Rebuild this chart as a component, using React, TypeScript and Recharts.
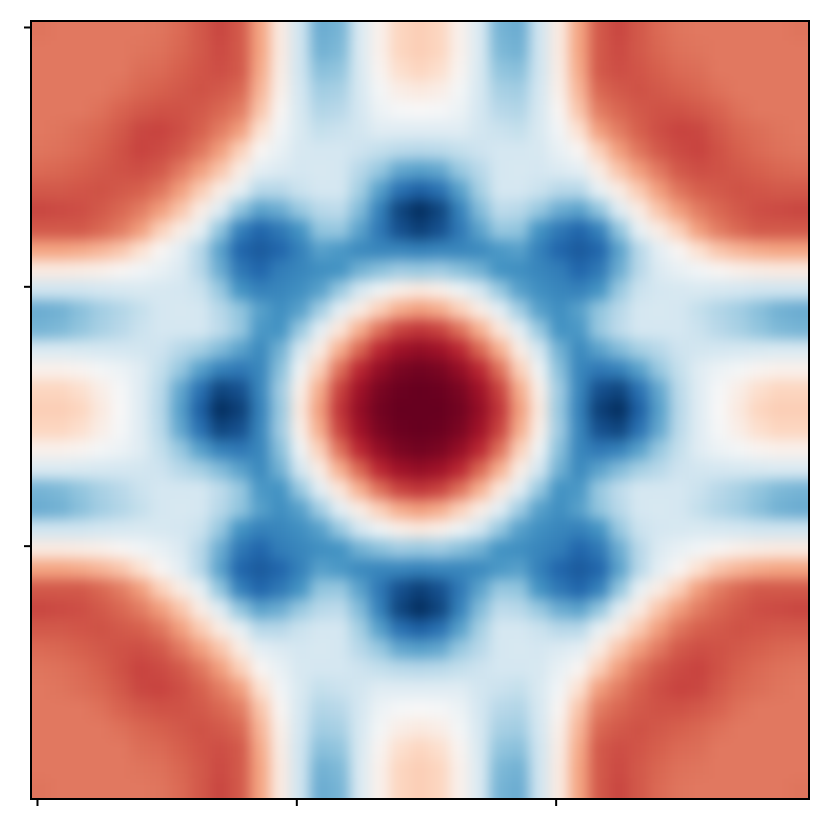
import React from 'react';
import { ScatterChart, Scatter, XAxis, YAxis, ReferenceArea } from 'recharts';

// values in percent for one quadrant:
// rows go from the centre line outwards, columns likewise. The picture is mirror symmetric.
const quadrant: number[][] = [
  [100, 100, 97, 88, 72, 42, 10, -38, -68, -94, -100, -82, -55, -28, -12, 0, 10, 22, 25, 25],
  [100, 99, 95, 85, 68, 37, 6, -36, -66, -88, -92, -75, -52, -27, -12, -1, 7, 17, 22, 22],
  [97, 95, 88, 76, 55, 24, -5, -42, -66, -72, -68, -55, -38, -24, -12, -6, -2, 3, 5, 5],
  [88, 85, 76, 58, 36, 8, -18, -48, -64, -54, -44, -34, -28, -21, -19, -18, -17, -16, -15, -15],
  [72, 68, 55, 36, 12, -10, -38, -60, -58, -38, -26, -18, -18, -18, -22, -28, -33, -40, -45, -47],
  [42, 37, 24, 8, -10, -35, -55, -62, -55, -40, -28, -18, -17, -18, -24, -30, -35, -42, -48, -50],
  [10, 6, -5, -18, -38, -55, -62, -66, -68, -60, -38, -22, -18, -17, -16, -17, -18, -20, -20, -20],
  [-38, -36, -42, -48, -60, -62, -66, -70, -80, -72, -50, -28, -14, -8, -3, 2, 6, 8, 9, 9],
  [-68, -66, -66, -64, -58, -55, -68, -80, -84, -80, -54, -28, -10, 2, 16, 28, 34, 38, 40, 40],
  [-94, -88, -72, -54, -38, -40, -60, -72, -80, -68, -40, -8, 8, 24, 42, 52, 58, 62, 62, 62],
  [-100, -92, -68, -44, -26, -28, -38, -50, -54, -40, -12, 8, 28, 42, 52, 58, 62, 65, 66, 67],
  [-82, -75, -55, -34, -18, -18, -22, -28, -28, -8, 8, 26, 42, 54, 60, 62, 64, 63, 62, 62],
  [-55, -52, -38, -28, -18, -17, -18, -14, -10, 8, 28, 42, 53, 62, 65, 64, 62, 60, 58, 57],
  [-28, -27, -24, -21, -18, -18, -17, -8, 2, 24, 42, 54, 62, 66, 68, 64, 60, 57, 55, 54],
  [-12, -12, -12, -19, -22, -24, -16, -3, 16, 42, 52, 60, 65, 68, 67, 62, 58, 56, 54, 53],
  [0, -1, -6, -18, -28, -30, -17, 2, 28, 52, 58, 62, 64, 64, 62, 59, 55, 53, 53, 53],
  [10, 7, -2, -17, -33, -35, -18, 6, 34, 58, 62, 64, 62, 60, 58, 55, 53, 53, 53, 53],
  [22, 17, 3, -16, -40, -42, -20, 8, 38, 62, 65, 63, 60, 57, 56, 53, 53, 53, 53, 53],
  [25, 22, 5, -15, -45, -48, -20, 9, 40, 62, 66, 62, 58, 55, 54, 53, 53, 53, 53, 53],
  [25, 22, 5, -15, -47, -50, -20, 9, 40, 62, 67, 62, 57, 54, 53, 53, 53, 53, 53, 54],
];

const colorStops = ['#053061', '#2166ac', '#4393c3', '#92c5de', '#d1e5f0', '#f7f7f7', '#fddbc7', '#f4a582', '#d6604d', '#b2182b', '#67001f'];
const axisTicks = [0, 20, 40];

const GRID = 39;
const CELLS = 60; // the source image is 60 by 60
const PLOT = 778;

const hexToRgb = (hex: string) => [1, 3, 5].map((p) => parseInt(hex.slice(p, p + 2), 16));

const toColor = (pct: number) => {
  const t = Math.max(0, Math.min(0.9999, (pct + 100) / 200)) * (colorStops.length - 1);
  const idx = Math.floor(t);
  const a = hexToRgb(colorStops[idx]);
  const b = hexToRgb(colorStops[idx + 1]);
  const rgb = a.map((c, k) => Math.round(c + (b[k] - c) * (t - idx)));
  return `rgb(${rgb.join(',')})`;
};

const cells: { x: number; y: number; value: number; col: number; row: number }[] = [];
for (let row = 0; row < GRID; row++) {
  for (let col = 0; col < GRID; col++) {
    cells.push({
      x: ((col + 0.5) * CELLS) / GRID - 0.5,
      y: ((row + 0.5) * CELLS) / GRID - 0.5,
      value: quadrant[Math.abs(row - 19)][Math.abs(col - 19)],
      col,
      row,
    });
  }
}

const HeatCell = ({ cx, cy, payload }: any) => {
  const size = PLOT / GRID;
  // edge cells run past the frame so the blur does not fade out there
  const left = payload.col === 0 ? 40 : 0;
  const right = payload.col === GRID - 1 ? 40 : 0;
  const top = payload.row === 0 ? 40 : 0;
  const bottom = payload.row === GRID - 1 ? 40 : 0;
  return (
    <rect
      x={cx - size / 2 - left - 0.5}
      y={cy - size / 2 - top - 0.5}
      width={size + left + right + 1}
      height={size + top + bottom + 1}
      fill={toColor(payload.value)}
    />
  );
};

const frameLine = { stroke: '#000', strokeWidth: 2 };
const noLabel = () => '';

export default function App() {
  return (
    <div style={{ position: 'absolute', left: 0, top: 0, width: 830, height: 830 }}>
      <style>{`.recharts-scatter { filter: url(#smooth); clip-path: url(#plotClip); }`}</style>
      <ScatterChart width={830} height={830} margin={{ top: 21, right: 21, bottom: 0, left: 0 }}>
        <defs>
          <clipPath id="plotClip">
            <rect x={32} y={22} width={PLOT - 2} height={PLOT - 2} />
          </clipPath>
          <filter id="smooth" filterUnits="userSpaceOnUse" x={-60} y={-60} width={950} height={950} colorInterpolationFilters="sRGB">
            <feGaussianBlur stdDeviation={6.5} />
          </filter>
        </defs>
        <Scatter data={cells} shape={<HeatCell />} isAnimationActive={false} />
        <XAxis
          type="number"
          dataKey="x"
          domain={[-0.5, 59.5]}
          ticks={axisTicks}
          height={31}
          tickSize={7}
          tickFormatter={noLabel}
          axisLine={false}
          tickLine={frameLine}
        />
        <YAxis
          type="number"
          dataKey="y"
          domain={[-0.5, 59.5]}
          reversed
          ticks={axisTicks}
          width={31}
          tickSize={7}
          tickFormatter={noLabel}
          axisLine={false}
          tickLine={frameLine}
        />
        <ReferenceArea x1={-0.5} x2={59.5} y1={-0.5} y2={59.5} fill="none" stroke="#000" strokeWidth={2} ifOverflow="visible" />
      </ScatterChart>
    </div>
  );
}
